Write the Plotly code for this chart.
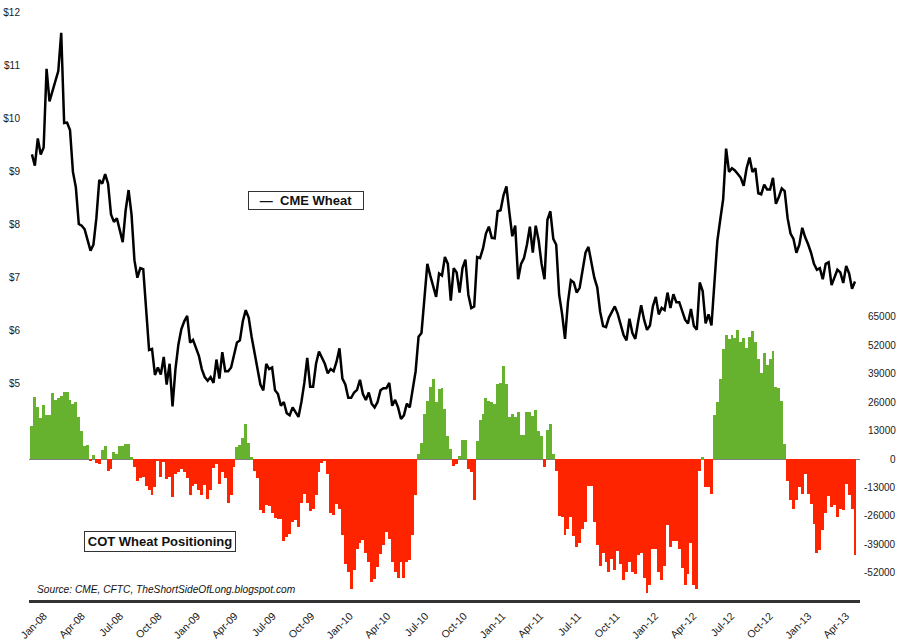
import pandas as pd
import plotly.graph_objects as go

# Weekly observations, first week of Jan 2008 to late May 2013
start_date = "2008-01-01"

# CME wheat price ($ per bushel), weekly
wheat_price = [
    9.32, 9.11, 9.62, 9.32, 9.45, 10.93, 10.32, 10.50, 10.71, 10.89,
    11.61, 9.91, 9.92, 9.78, 8.99, 8.70, 8.01, 7.98, 7.91, 7.73,
    7.51, 7.62, 8.12, 8.84, 8.77, 8.95, 8.77, 8.19, 8.05, 8.12,
    7.91, 7.67, 8.27, 8.65, 8.19, 7.33, 7.00, 7.18, 7.16, 6.39,
    5.64, 5.66, 5.17, 5.31, 5.18, 5.51, 4.99,
    5.38, 4.58, 5.28, 5.74, 6.03, 6.18, 6.28, 5.78, 5.83, 5.67,
    5.53, 5.28, 5.13, 5.06, 5.13, 5.02, 5.46, 5.10, 5.60, 5.24,
    5.24, 5.31, 5.56, 5.78, 5.82, 6.18, 6.39, 6.25, 5.89, 5.60,
    5.31, 4.99, 4.88, 5.38, 5.28, 5.31, 4.88, 4.81, 4.59, 4.66,
    4.45, 4.41, 4.56, 4.48, 4.38, 4.66, 5.02, 5.49,
    4.95, 4.95, 5.38, 5.61, 5.49, 5.38, 5.20, 5.28, 5.24, 5.42,
    5.67, 5.10, 4.99, 4.74, 4.74, 4.84, 4.89, 5.08, 4.81, 4.70,
    4.84, 4.63, 4.56, 4.66, 4.88, 4.92, 4.92, 5.02, 4.59, 4.70,
    4.56, 4.34, 4.41, 4.63, 4.56, 4.88, 5.24, 5.89, 5.96, 6.61,
    7.26, 7.04, 6.82, 6.64, 7.08, 7.04, 7.39, 7.26,
    6.57, 7.18, 7.10, 6.72, 7.18, 7.34, 6.68, 6.43, 6.46, 7.39,
    7.37, 7.55, 7.83, 7.96, 7.75, 7.74, 8.25, 8.27, 8.55, 8.72,
    8.23, 7.78, 7.98, 6.97, 7.26, 7.37, 7.62, 7.96, 7.47, 7.98,
    7.70, 7.26, 6.97, 8.09, 8.25, 7.73, 7.62, 6.68, 6.32, 5.85,
    6.54, 6.95, 6.91, 6.72, 6.81, 7.15, 7.47,
    7.58, 7.26, 7.00, 6.82, 6.36, 6.09, 6.07, 6.25, 6.36, 6.46,
    6.32, 6.10, 5.92, 5.82, 6.23, 5.96, 5.85, 6.18, 6.48, 6.21,
    6.02, 6.10, 6.46, 6.64, 6.31, 6.43, 6.39, 6.72, 6.43, 6.69,
    6.54, 6.54, 6.36, 6.21, 6.14, 6.41, 6.09, 6.02, 6.91, 6.75,
    6.14, 6.31, 6.10, 6.90, 7.69, 8.09,
    8.48, 9.43, 8.99, 9.06, 9.02, 8.95, 8.88, 8.73, 9.06, 9.26,
    8.99, 9.06, 8.59, 8.57, 8.75, 8.66, 8.66, 8.88, 8.39, 8.52,
    8.68, 8.63, 8.12, 7.83, 7.73, 7.47, 7.62, 7.94, 7.76, 7.63,
    7.47, 7.26, 7.15, 7.18, 6.97, 7.26, 7.29, 6.86, 7.00, 7.15,
    7.10, 6.90, 7.22, 7.08, 6.79, 6.93,
]

# COT net positioning (contracts), weekly
cot_net = [
    14900, 28400, 23700, 18900, 24900, 20100, 20100, 30100, 27200, 28000,
    28900, 30700, 30700, 27200, 25400, 25900, 19300, 12600, 6100, 6500,
    -900, 1800, -1800, -2100, 3900, 6100, -5300, -4400, 3200, 2300,
    5800, 5800, 7000, 6700, 900, -3500, -10200, -8800, -8200, -12300,
    -14000, -16600, -12600, -900,
    -8000, -1500, -9000, -8000, -17200,
    -6700, -6100, -4400, -6100, -8800, -16600, -12300, -11400, -14400, -16600,
    -11900, -18400, -14400, -3900, -2300, -11400, -6100, -8800, -20100, -16600,
    -3500, 5300, 6500, 9600, 15800, 7400, 900, -5300, -8800, -23300,
    -24900, -21000, -21500, -24500, -27200, -27500, -27500, -37300, -35900, -34300,
    -28900, -28000, -31200, -20100, -15800, -20100,
    -23700, -22800, -16600, -6100, -1800, -900, -6700, -24500, -25400, -20700,
    -22800, -34700, -48200, -51700, -59600, -50800, -41200, -38200, -37100, -42900,
    -47300, -56100, -54700, -49400, -43400, -39400, -33300, -36800, -47300, -51700,
    -54300, -47000, -54300, -47000, -46400, -34700, -16600, 2300, 7400, 20700,
    26600, 32900, 36800, 25900, 31900, 32400, 22800, 10500,
    4400, -3200, -2100, 1400, 8800, 8800, -4400, -6100, -18900, 8400,
    17900, 20700, 27700, 26600, 26300, 25400, 34500, 35000, 42400, 34200,
    19300, 20700, 19300, 21400, 10900, 11200, 21400, 21500, 19800, 22300,
    12600, 10500, -3500, 13100, 16100, 2500, -5600, -25900, -26600, -34700,
    -31900, -26300, -35000, -40300, -38200, -31900, -28900, -12500,
    -12300, -28900, -39400, -49100, -42900, -47300, -51700, -45900, -50800, -42000,
    -48200, -55200, -51700, -47000, -51700, -52600, -43800, -42900, -54300, -61300,
    -57800, -41200, -41200, -51700, -55200, -49100, -30100, -40300, -37700, -37700,
    -41200, -49900, -57800, -52600, -38500, -57500, -59600, -5600, 900, -12600,
    -12600, -16100, 20100, 26300, 36800,
    50500, 56900, 54700, 56900, 55200, 59200, 53400, 55200, 50800, 55700,
    58700, 53400, 45900, 39400, 48700, 42900, 45600, 49600, 32900, 32400,
    26600, 7000, -10200, -18700, -22800, -18900, -12600, -16100, -7000, -16100,
    -20700, -29800, -42900, -41700, -32400, -24500, -16800, -21900, -21000, -26600,
    -22800, -23100, -11400, -16600, -22800, -43800,
]

price_ticks = [5, 6, 7, 8, 9, 10, 11, 12]
price_tick_text = ["$" + str(v) for v in price_ticks]
cot_ticks = [65000, 52000, 39000, 26000, 13000, 0, -13000, -26000, -39000, -52000]

assert len(wheat_price) == len(cot_net)
dates = pd.date_range(start_date, periods=len(wheat_price), freq="7D")

GREEN = "#66B22E"
RED = "#FF2400"
bar_colors = [GREEN if v >= 0 else RED for v in cot_net]

fig = go.Figure()
fig.add_trace(go.Bar(
    x=dates, y=cot_net, yaxis="y",
    marker=dict(color=bar_colors, line=dict(width=0)),
    width=7 * 24 * 3600 * 1000,
    name="COT Wheat Positioning",
))
fig.add_trace(go.Scatter(
    x=dates, y=wheat_price, yaxis="y2", mode="lines",
    line=dict(color="#000000", width=2.5),
    name="CME Wheat",
))

W, H = 905, 641
ML, MR, MT, MB = 29, 45, 0, 41
PW = W - ML - MR

tick_font = dict(family="Liberation Sans, Arial, sans-serif", size=10, color="#1a1a1a")

annotations = [
    dict(text="<b>\u2014  CME Wheat</b>", xref="paper", yref="paper",
         x=(306 - ML) / PW, y=1 - 201 / 600, xanchor="center", yanchor="middle",
         showarrow=False, width=112, height=15, borderpad=1,
         bordercolor="#333333", borderwidth=1, bgcolor="white",
         font=dict(family="Liberation Sans, Arial, sans-serif", size=13, color="#111111")),
    dict(text="<b>COT Wheat Positioning</b>", xref="paper", yref="paper",
         x=(160 - ML) / PW, y=1 - 541 / 600, xanchor="center", yanchor="middle",
         showarrow=False, width=148, height=17, borderpad=1,
         bordercolor="#333333", borderwidth=1, bgcolor="white",
         font=dict(family="Liberation Sans, Arial, sans-serif", size=13, color="#111111")),
    dict(text="<i>Source: CME, CFTC, TheShortSideOfLong.blogspot.com</i>",
         xref="paper", yref="paper", x=(35 - ML) / PW, y=1 - 589 / 600,
         xanchor="left", yanchor="middle", showarrow=False,
         font=dict(family="Liberation Sans, Arial, sans-serif", size=10.2, color="#111111")),
]
# right-aligned COT axis labels
for v in cot_ticks:
    annotations.append(dict(
        text=str(v), xref="paper", yref="y", x=(898 - ML) / PW, y=v,
        xanchor="right", yanchor="middle", showarrow=False, font=tick_font,
    ))

fig.update_layout(
    width=W, height=H,
    margin=dict(l=ML, r=MR, t=MT, b=MB, pad=0),
    paper_bgcolor="white", plot_bgcolor="white",
    showlegend=False, bargap=0,
    xaxis=dict(
        type="date", range=["2007-12-25", "2013-06-02"],
        tick0="2008-01-01", dtick="M3", tickformat="%b-%y",
        tickangle=-45, ticks="", showgrid=False, zeroline=False,
        showline=True, linecolor="#333333", linewidth=2.5,
        ticklabelshift=12, ticklabelstandoff=3,
        tickfont=dict(family="Liberation Sans, Arial, sans-serif", size=10.5, color="#1a1a1a"),
    ),
    yaxis=dict(
        side="right", range=[-64500, 210000],
        showticklabels=False, ticks="", showgrid=False,
        zeroline=True, zerolinecolor="#808080", zerolinewidth=1,
        showline=False,
    ),
    yaxis2=dict(
        overlaying="y", side="left", range=[0.935, 12.226],
        tickmode="array", tickvals=price_ticks, ticktext=price_tick_text, ticks="",
        showgrid=False, zeroline=False, showline=False,
        ticklabelstandoff=8, tickfont=tick_font,
    ),
    annotations=annotations,
)

fig.write_html("out.html")
